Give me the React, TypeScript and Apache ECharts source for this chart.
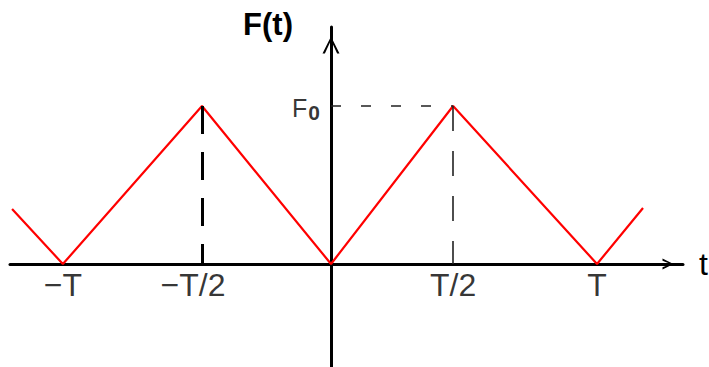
import React, { useEffect, useRef } from "react";
import * as echarts from "echarts";

// Triangle wave F(t): corner points (t in units of the period T, F in units of F0)
const waveT = [-1.199, -1.008, -0.485, 0, 0.459, 1.0, 1.173];
const waveF = [0.348, 0, 1, 0, 1, 0, 0.354];

// Tick marks along the t axis
const tickT = [-1.008, -0.485, 0.459, 1.0];
const tickLabels = ["\u2212T", "\u2212T/2", "T/2", "T"];
const tickLabelShift = [0, -9, 0, 0];

// Peak level
const peakLevel = 1;
const peakLeftT = -0.485;
const peakRightT = 0.459;

const FONT = "'Liberation Sans', Arial, Helvetica, sans-serif";

// Open arrow heads pointing up
const arrowHeadY = "path://M50,0 L100,100 L86,100 L50,22 L14,100 L0,100 Z";
const arrowHeadX = "path://M50,0 L100,100 L80,100 L50,25 L20,100 L0,100 Z";

export default function App() {
  const ref = useRef<HTMLDivElement>(null);

  useEffect(() => {
    if (!ref.current) return;
    const chart = echarts.init(ref.current, undefined, { renderer: "svg" });

    const wave = waveT.map((t, i) => [t, waveF[i]]);
    const ticks = tickT.map((t, i) => ({
      value: [t, 0],
      label: {
        formatter: tickLabels[i],
        offset: [tickLabelShift[i], 0],
      },
    }));

    chart.setOption({
      animation: false,
      backgroundColor: "#ffffff",
      grid: {
        left: 10,
        right: 26,
        top: 27,
        bottom: 0,
        containLabel: false,
        outerBoundsMode: "none",
      },
      xAxis: {
        type: "value",
        min: -1.2068,
        max: 1.3233,
        name: "t",
        nameLocation: "end",
        nameGap: 16,
        nameTextStyle: { fontFamily: FONT, fontSize: 32, color: "#000" },
        axisLine: {
          onZero: true,
          symbol: ["none", arrowHeadX],
          symbolSize: [11, 30],
          symbolOffset: [0, -15],
          lineStyle: { color: "#000", width: 3 },
        },
        axisTick: { show: false },
        axisLabel: { show: false },
        splitLine: { show: false },
      },
      yAxis: {
        type: "value",
        min: -0.6519,
        max: 1.5,
        axisLine: {
          onZero: true,
          symbol: ["none", arrowHeadY],
          symbolSize: [17, 36],
          symbolOffset: [0, -18],
          lineStyle: { color: "#000", width: 3 },
        },
        axisTick: { show: false },
        axisLabel: { show: false },
        splitLine: { show: false },
      },
      graphic: [
        {
          type: "text",
          x: 268,
          y: 24,
          style: {
            text: "F(t)",
            fontFamily: FONT,
            fontSize: 31,
            fontWeight: "bold",
            fill: "#000",
            align: "center",
            verticalAlign: "middle",
          },
        },
      ],
      series: [
        {
          type: "line",
          data: wave,
          symbol: "none",
          z: 3,
          lineStyle: { color: "#ff0000", width: 2.2 },
          markLine: {
            silent: true,
            symbol: ["none", "none"],
            label: { show: false },
            data: [
              [
                {
                  coord: [peakLeftT, peakLevel],
                  lineStyle: { color: "#000", width: 3, type: [28, 18] },
                },
                { coord: [peakLeftT, 0] },
              ],
              [
                {
                  coord: [peakRightT, peakLevel],
                  lineStyle: { color: "#222", width: 1.6, type: [25, 20] },
                },
                { coord: [peakRightT, 0] },
              ],
              [
                {
                  coord: [0, peakLevel],
                  lineStyle: { color: "#222", width: 1.6, type: [10, 20] },
                },
                { coord: [peakRightT, peakLevel] },
              ],
            ],
          },
        },
        {
          type: "scatter",
          data: ticks,
          symbolSize: 0,
          silent: true,
          label: {
            show: true,
            position: "bottom",
            distance: 5,
            fontFamily: FONT,
            fontSize: 32,
            color: "#000",
          },
        },
        {
          type: "scatter",
          data: [[0, peakLevel]],
          symbolSize: 0,
          silent: true,
          label: {
            show: true,
            position: "left",
            distance: 11,
            offset: [0, 2],
            formatter: "{f|F}{s|0}",
            rich: {
              f: { fontFamily: FONT, fontSize: 25, color: "#000" },
              s: {
                fontFamily: FONT,
                fontSize: 21,
                fontWeight: "bold",
                color: "#000",
                padding: [9, 0, 0, 1],
              },
            },
          },
        },
      ],
    });

    return () => chart.dispose();
  }, []);

  return (
    <div
      ref={ref}
      style={{ position: "absolute", left: 0, top: 0, width: 709, height: 367 }}
    />
  );
}
